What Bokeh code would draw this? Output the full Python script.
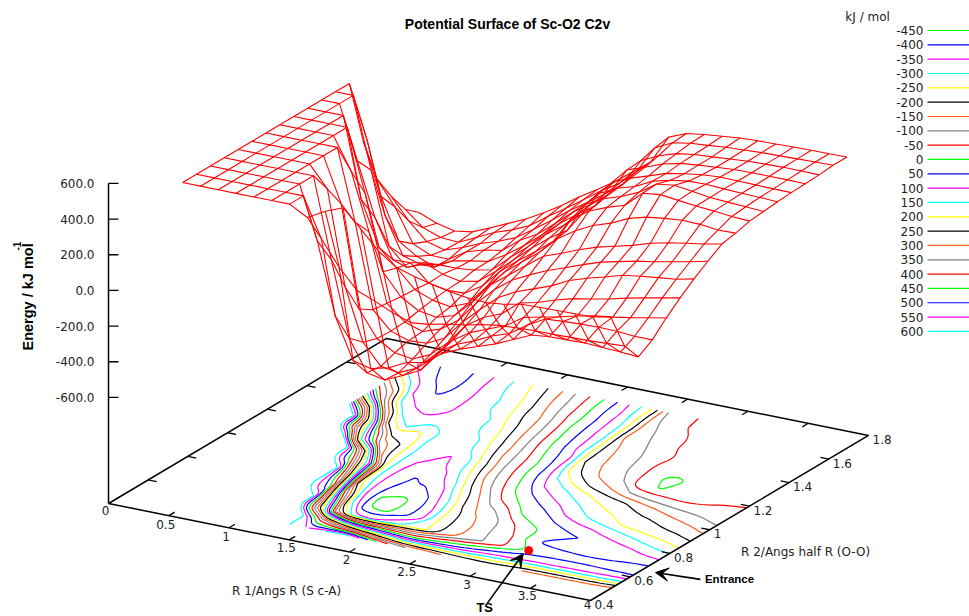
import numpy as np
from contourpy import contour_generator
from bokeh.plotting import figure
from bokeh.models import Range1d, Arrow, VeeHead
from bokeh.core.properties import value
from bokeh.embed import file_html
from bokeh.resources import INLINE

TITLE = "Potential Surface of Sc-O2 C2v"
R1_TICKS = [0, 0.5, 1, 1.5, 2, 2.5, 3, 3.5, 4]
R1_LABELS = ["0", "0.5", "1", "1.5", "2", "2.5", "3", "3.5", "4"]
R2_TICKS = [0.4, 0.6, 0.8, 1.0, 1.2, 1.4, 1.6, 1.8]
R2_LABELS = ["0.4", "0.6", "0.8", "1", "1.2", "1.4", "1.6", "1.8"]
E_TICKS = [-600, -400, -200, 0, 200, 400, 600]
LEVELS = [-450, -400, -350, -300, -250, -200, -150, -100, -50, 0, 50, 100, 150, 200, 250, 300, 350, 400, 450, 500, 550, 600]
COLOURS = ["#00ff00", "#0000ff", "#ff00ff", "#00ffff", "#ffff00", "#000000", "#ff5a1a", "#808080", "#ff0000"]

# Mesh axes
R1_NODES = [0.45, 0.598, 0.746, 0.894, 1.042, 1.19, 1.338, 1.486, 1.634, 1.782, 1.93, 2.078, 2.226, 2.374, 2.522, 2.67, 2.818, 2.966, 3.114, 3.262, 3.41, 3.558, 3.706, 3.854, 4.002]
R2_NODES = [0.50, 0.57, 0.64, 0.71, 0.78, 0.85, 0.92, 0.99, 1.06, 1.13, 1.20, 1.27, 1.34, 1.41, 1.48, 1.55, 1.62, 1.69]

# Energy (kJ/mol) along R1 for each R2 row
E_050 = [600, 600, 600, 600, 600, 600, 600, 545, 600, 640, 540, 435, 365, 335, 310, 290, 275, 270, 280, 300, 303, 305, 307, 309, 330]
E_057 = [600, 600, 600, 600, 600, 600, 600, 380, 240, 130, 90, 45, 10, 20, 42, 57, 80, 95, 100, 105, 105, 108, 110, 115, 120]
E_064 = [600, 600, 600, 600, 600, 600, 300, -100, -330, -355, -330, -280, -260, -190, -145, -110, -75, -30, 15, 25, 28, 30, 25, 20, 13]
E_071 = [600, 600, 600, 600, 600, 600, 150, -270, -445, -465, -420, -370, -248, -185, -145, -97, -63, 5, 58, 65, 70, 72, 70, 62, 62]
E_078 = [600, 600, 600, 600, 600, 480, -50, -340, -455, -470, -425, -345, -230, -165, -125, -85, -20, 3, 25, 49, 70, 83, 100, 120, 138]
E_085 = [600, 600, 600, 600, 600, 350, -220, -365, -425, -440, -395, -305, -190, -125, -85, -5, 18, 52, 80, 98, 118, 143, 165, 185, 205]
E_092 = [600, 600, 600, 600, 600, 200, -270, -370, -403, -398, -350, -240, -148, -62, -8, 28, 65, 115, 148, 175, 205, 220, 232, 243, 265]
E_099 = [600, 600, 600, 600, 420, 100, -280, -365, -398, -365, -295, -180, -85, -10, 40, 85, 120, 158, 192, 215, 238, 255, 275, 295, 318]
E_106 = [600, 600, 600, 600, 250, -170, -290, -348, -365, -335, -240, -125, -50, 25, 98, 135, 175, 210, 235, 260, 292, 315, 332, 348, 368]
E_113 = [600, 600, 600, 150, -100, -195, -295, -335, -352, -312, -203, -100, -20, 55, 150, 215, 265, 298, 345, 372, 385, 395, 392, 380, 383]
E_120 = [600, 600, 300, 0, -215, -212, -305, -325, -322, -262, -160, -80, -8, 70, 215, 280, 320, 352, 440, 452, 440, 428, 420, 410, 404]
E_127 = [600, 600, 200, -205, -305, -258, -302, -322, -302, -225, -140, -55, 22, 85, 250, 302, 335, 378, 445, 458, 445, 430, 424, 418, 412]
E_134 = [600, 300, -100, -305, -335, -315, -315, -305, -283, -195, -115, -25, 45, 125, 265, 315, 345, 395, 420, 435, 438, 432, 428, 424, 420]
E_141 = [230, -60, -290, -355, -395, -340, -320, -303, -245, -175, -95, -10, 62, 130, 285, 325, 358, 392, 410, 425, 432, 430, 428, 426, 425]
E_148 = [-30, -165, -350, -395, -398, -335, -305, -288, -210, -155, -75, 10, 72, 150, 305, 340, 378, 402, 412, 420, 428, 430, 430, 430, 428]
E_155 = [-170, -290, -385, -412, -378, -335, -303, -262, -195, -125, -50, 15, 85, 158, 310, 358, 390, 405, 412, 420, 428, 432, 434, 434, 432]
E_162 = [-290, -372, -408, -415, -368, -320, -285, -240, -170, -105, -35, 35, 95, 185, 335, 385, 402, 410, 420, 425, 430, 432, 435, 438, 440]
E_169 = [-355, -395, -418, -403, -360, -315, -270, -215, -155, -85, -25, 40, 115, 190, 350, 390, 405, 415, 425, 430, 432, 435, 437, 438, 440]

E = np.array([E_050, E_057, E_064, E_071, E_078, E_085, E_092, E_099, E_106, E_113, E_120, E_127, E_134,
              E_141, E_148, E_155, E_162, E_169], dtype=float)
R1 = np.array(R1_NODES)
R2 = np.array(R2_NODES)

# Transition state and annotations (R1, R2 on the base plane)
TS_POINT = (3.095, 0.638)
TS_ARROW = ((3.39, 0.25), (3.095, 0.61))
TS_TEXT = (3.417, 0.221)
ENTRANCE_ARROW = ((4.46, 0.674), (4.11, 0.66))
ENTRANCE_TEXT = (4.49, 0.679)

# View: orthographic projection fixed by the box corners
OX, OY = 108.0, 503.0
UX, UY = 120.5, 24.25      # screen per unit of R1
VX, VY = 198.6, -117.9     # screen per unit of R2
WY = -0.1783               # screen per kJ/mol
E0 = -1195.0               # energy of the base plane
R2_MIN = 0.4


def sx(r1, r2):
    return OX + UX * np.asarray(r1, float) + VX * (np.asarray(r2, float) - R2_MIN)


def sy(r1, r2, e=E0):
    return OY + UY * np.asarray(r1, float) + VY * (np.asarray(r2, float) - R2_MIN) + WY * (np.asarray(e, float) - E0)


def smooth(x, y, n=2):
    x, y = np.asarray(x), np.asarray(y)
    closed = len(x) > 3 and x[0] == x[-1] and y[0] == y[-1]
    for _ in range(n):
        xa = 0.75 * x[:-1] + 0.25 * x[1:]
        xb = 0.25 * x[:-1] + 0.75 * x[1:]
        ya = 0.75 * y[:-1] + 0.25 * y[1:]
        yb = 0.25 * y[:-1] + 0.75 * y[1:]
        nx = np.column_stack([xa, xb]).ravel()
        ny = np.column_stack([ya, yb]).ravel()
        if closed:
            nx = np.append(nx, nx[0])
            ny = np.append(ny, ny[0])
        else:
            nx = np.concatenate([[x[0]], nx, [x[-1]]])
            ny = np.concatenate([[y[0]], ny, [y[-1]]])
        x, y = nx, ny
    return x, y


p = figure(width=969, height=616, output_backend="svg", toolbar_location=None,
           x_range=Range1d(0, 969), y_range=Range1d(616, 0), min_border=0, outline_line_color=None)
p.axis.visible = False
p.grid.visible = False
p.background_fill_color = "white"

# Contours on the base plane
cg = contour_generator(x=R1, y=R2, z=E)
for k, lev in enumerate(LEVELS):
    colour = COLOURS[k % len(COLOURS)]
    xs, ys = [], []
    for line in cg.lines(599.9 if lev == 600 else lev):
        a, b = smooth(line[:, 0], line[:, 1])
        xs.append(sx(a, b).tolist())
        ys.append(sy(a, b).tolist())
    if xs:
        p.multi_line(xs, ys, line_color=colour, line_width=1.2)

# Box on the base plane
box_r1 = [0, 4, 4, 0, 0]
box_r2 = [0.4, 0.4, 1.8, 1.8, 0.4]
p.line(sx(box_r1, box_r2), sy(box_r1, box_r2), line_color="black", line_width=1.5)

# Ticks
txs, tys = [], []
for t in R1_TICKS[1:-1]:
    for r2, d in ((0.4, 0.03), (1.8, -0.03)):
        txs.append(sx([t, t], [r2, r2 + d]).tolist())
        tys.append(sy([t, t], [r2, r2 + d]).tolist())
for t in R2_TICKS[1:-1]:
    for r1, d in ((4, -0.07), (0, 0.07)):
        txs.append(sx([r1, r1 + d], [t, t]).tolist())
        tys.append(sy([r1, r1 + d], [t, t]).tolist())
p.multi_line(txs, tys, line_color="black", line_width=1.3)

FONT = value("DejaVu Sans")
BOLD = value("Liberation Sans")
R1_DY = [7, 9, 9, 8, 7, 7, 8, 7, 4]
p.text(sx(R1_TICKS, 0.4) - 3, sy(R1_TICKS, 0.4) + np.array(R1_DY), text=R1_LABELS, text_font=FONT, text_font_size="12px",
       text_align="center", text_baseline="middle", text_color="#222222")
p.text(sx(4, R2_TICKS) + 4, sy(4, R2_TICKS) + 4, text=R2_LABELS, text_font=FONT, text_font_size="12px",
       text_align="left", text_baseline="middle", text_color="#222222")

# Energy axis
z_bottom = OY
zx = sx(0, R2_MIN)
ez = sy(0, R2_MIN, E_TICKS)
p.line([zx, zx], [float(ez[-1]), z_bottom], line_color="black", line_width=1.5)
p.multi_line([[float(zx), float(zx) + 10] for _ in E_TICKS], [[float(v), float(v)] for v in ez], line_color="black", line_width=1.3)
p.text([float(zx) - 14] * len(E_TICKS), ez, text=[f"{v:.1f}" for v in E_TICKS], text_font=FONT, text_font_size="12px",
       text_align="right", text_baseline="middle", text_color="#222222")

# Wireframe surface
xx, yy = np.meshgrid(R1, R2)
SX, SY = sx(xx, yy), sy(xx, yy, E)
mx = [SX[j, :].tolist() for j in range(SX.shape[0])] + [SX[:, i].tolist() for i in range(SX.shape[1])]
my = [SY[j, :].tolist() for j in range(SX.shape[0])] + [SY[:, i].tolist() for i in range(SX.shape[1])]
p.multi_line(mx, my, line_color="#ff0000", line_width=1.1)

# Transition state point and arrows
p.scatter([sx(*TS_POINT)], [sy(*TS_POINT)], size=8, color="#ff0000", line_color="#ff0000")
for tail, tip in (TS_ARROW, ENTRANCE_ARROW):
    p.add_layout(Arrow(end=VeeHead(size=13, fill_color="black", line_color="black"),
                       x_start=float(sx(*tail)), y_start=float(sy(*tail)), x_end=float(sx(*tip)), y_end=float(sy(*tip)),
                       line_color="black", line_width=1.6))
p.text([sx(*TS_TEXT)], [sy(*TS_TEXT)], text=["TS"], text_font=BOLD, text_font_style="bold", text_font_size="13px",
       text_align="center", text_baseline="middle", text_color="black")
p.text([sx(*ENTRANCE_TEXT)], [sy(*ENTRANCE_TEXT)], text=["Entrance"], text_font=BOLD, text_font_style="bold", text_font_size="11.5px",
       text_align="left", text_baseline="middle", text_color="black")

# Titles and labels (screen-placed)
p.text([507], [23], text=[TITLE], text_font=BOLD, text_font_style="bold", text_font_size="14px",
       text_align="center", text_baseline="middle", text_color="black")
p.text([27], [350], text=["Energy / kJ mol"], angle=np.pi / 2, text_font=BOLD, text_font_style="bold", text_font_size="14.5px",
       text_align="left", text_baseline="middle", text_color="black")
p.text([16], [250], text=["-1"], angle=np.pi / 2, text_font=BOLD, text_font_style="bold", text_font_size="10px",
       text_align="left", text_baseline="middle", text_color="black")
p.text([288], [590], text=["R 1/Angs  R (S c-A)"], text_font=FONT, text_font_size="12px",
       text_align="center", text_baseline="middle", text_color="#222222")
p.text([807], [551], text=["R 2/Angs  half R (O-O)"], text_font=FONT, text_font_size="12px",
       text_align="center", text_baseline="middle", text_color="#222222")

# Level key
LEG_Y0, LEG_DY = 30.0, 14.33
leg_y = [LEG_Y0 + LEG_DY * k for k in range(len(LEVELS))]
p.text([869], [16], text=["kJ  / mol"], text_font=FONT, text_font_size="12px", text_align="center", text_baseline="middle", text_color="#222222")
p.text([923] * len(LEVELS), leg_y, text=[str(v) for v in LEVELS], text_font=FONT, text_font_size="12px",
       text_align="right", text_baseline="middle", text_color="#222222")
p.multi_line([[927, 969] for _ in LEVELS], [[y, y] for y in leg_y],
             line_color=[COLOURS[k % len(COLOURS)] for k in range(len(LEVELS))], line_width=1.2)

open("out.html", "w").write(file_html(p, INLINE))
